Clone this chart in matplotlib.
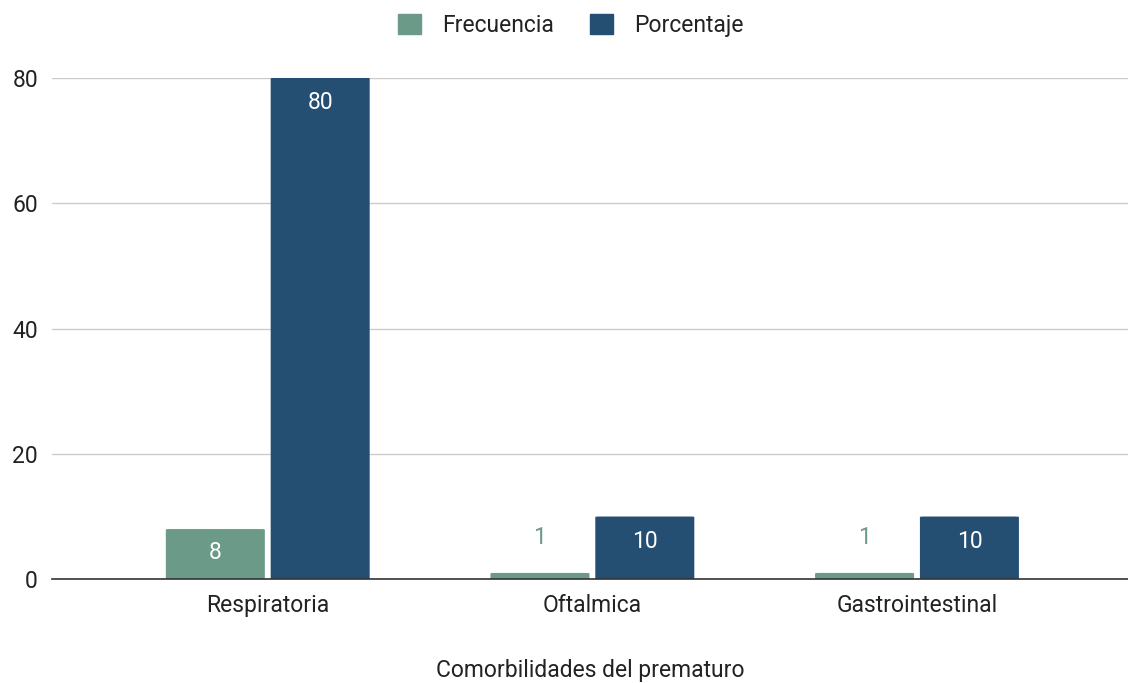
import numpy as np
import matplotlib.pyplot as plt
from matplotlib.patches import FancyBboxPatch

categories = ['Respiratoria', 'Oftalmica', 'Gastrointestinal']
frecuencia = [8, 1, 1]
porcentaje = [80, 10, 10]

green = '#6b9a89'
navy = '#254e73'

plt.rcParams['font.family'] = ['Roboto', 'DejaVu Sans']
fs = 16.5

fig = plt.figure(figsize=(11.28, 6.83), dpi=100)
ax = fig.add_axes([0.046, 0.152, 0.954, 0.734])

x = np.arange(len(categories))
w = 0.305
gap = 0.009

def rounded_bars(xs, vals, color):
    for xi, v in zip(xs, vals):
        p = FancyBboxPatch((xi - w / 2, 0), w, v,
                           boxstyle='round,pad=0,rounding_size=0.012',
                           mutation_aspect=6.0, facecolor=color,
                           edgecolor='none', zorder=3)
        ax.add_patch(p)

xf = x - w / 2 - gap
xp = x + w / 2 + gap
rounded_bars(xf, frecuencia, green)
rounded_bars(xp, porcentaje, navy)

# value labels
for xi, v in zip(xf, frecuencia):
    if v >= 5:
        ax.text(xi, v - 3.7, str(v), ha='center', va='center', color='white', fontsize=fs, zorder=4)
    else:
        ax.text(xi, v + 5.7, str(v), ha='center', va='center', color=green, fontsize=fs, zorder=4)
for xi, v in zip(xp, porcentaje):
    ax.text(xi, v - 4.0, str(v), ha='center', va='center', color='white', fontsize=fs, zorder=4)

ax.set_xlim(-0.665, 2.65)
ax.set_ylim(0, 80)
ax.set_yticks([0, 20, 40, 60, 80])
ax.set_xticks(x)
ax.set_xticklabels(categories)
ax.tick_params(axis='both', length=0, labelsize=fs, colors='#222222')
ax.tick_params(axis='x', pad=11)
ax.tick_params(axis='y', pad=10)
ax.grid(axis='y', color='#cccccc', linewidth=1, zorder=0)
ax.set_axisbelow(True)
for s in ['top', 'right', 'left']:
    ax.spines[s].set_visible(False)
ax.spines['bottom'].set_color('#333333')
ax.spines['bottom'].set_linewidth(1.2)
ax.spines['bottom'].set_zorder(5)

ax.set_xlabel('Comorbilidades del prematuro', fontsize=fs, color='#222222', labelpad=30)

handles = [plt.Rectangle((0, 0), 1, 1, color=green), plt.Rectangle((0, 0), 1, 1, color=navy)]
fig.legend(handles, ['Frecuencia', 'Porcentaje'], loc='upper center', bbox_to_anchor=(0.506, 1.01),
           ncol=2, frameon=False, fontsize=fs, handlelength=1.0, handleheight=1.0,
           columnspacing=1.6, handletextpad=0.9, labelcolor='#222222')

fig.savefig('out.png', dpi=100, facecolor='white')
